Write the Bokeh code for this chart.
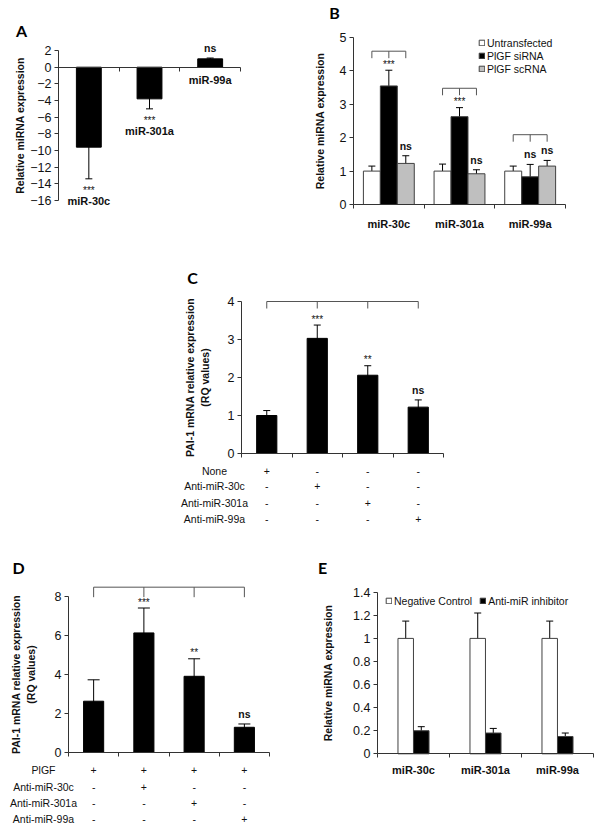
from bokeh.plotting import figure
from bokeh.models import (Range1d, FixedTicker, SingleIntervalTicker, ColumnDataSource,
                          Whisker, TeeHead, Label, Legend, LegendItem, Spacer)
from bokeh.layouts import row, column
from bokeh.embed import file_html
from bokeh.resources import INLINE

FONT = "Liberation Sans"
LETTER_FONT = "Lato"

# ---------------- data ----------------
# Panel A
a_cats = ["miR-30c", "miR-301a", "miR-99a"]
a_vals = [-9.6, -3.8, 1.0]
a_sd = [3.8, 1.2, 0.1]
a_sig = ["***", "***", "ns"]
a_yticks = (-16, 2, 2)

# Panel B
b_cats = ["miR-30c", "miR-301a", "miR-99a"]
b_series = ["Untransfected", "PlGF siRNA", "PlGF scRNA"]
b_untr = [1.0, 1.0, 1.0]
b_untr_sd = [0.15, 0.21, 0.15]
b_sirna = [3.55, 2.63, 0.83]
b_sirna_sd = [0.47, 0.27, 0.37]
b_scrna = [1.23, 0.92, 1.15]
b_scrna_sd = [0.23, 0.12, 0.17]
b_sig_sirna = ["***", "***", "ns"]
b_sig_scrna = ["ns", "ns", "ns"]
b_bracket = [4.59, 3.48, 2.09]
b_yticks = (0, 5, 1)

# Panel C
c_rows = ["None", "Anti-miR-30c", "Anti-miR-301a", "Anti-miR-99a"]
c_vals = [1.0, 3.03, 2.06, 1.22]
c_sd = [0.13, 0.35, 0.25, 0.19]
c_sig = ["", "***", "**", "ns"]
c_table = [["+", "-", "-", "-"],
           ["-", "+", "-", "-"],
           ["-", "-", "+", "-"],
           ["-", "-", "-", "+"]]
c_bracket = 4.0
c_yticks = (0, 4, 1)

# Panel D
d_rows = ["PlGF", "Anti-miR-30c", "Anti-miR-301a", "Anti-miR-99a"]
d_vals = [2.62, 6.13, 3.9, 1.28]
d_sd = [1.1, 1.28, 0.9, 0.17]
d_sig = ["", "***", "**", "ns"]
d_table = [["+", "+", "+", "+"],
           ["-", "+", "-", "-"],
           ["-", "-", "+", "-"],
           ["-", "-", "-", "+"]]
d_bracket = 8.48
d_yticks = (0, 8, 2)

# Panel E
e_cats = ["miR-30c", "miR-301a", "miR-99a"]
e_series = ["Negative Control", "Anti-miR inhibitor"]
e_neg = [1.0, 1.0, 1.0]
e_neg_sd = [0.15, 0.22, 0.15]
e_inh = [0.2, 0.18, 0.15]
e_inh_sd = [0.035, 0.04, 0.03]
e_ticks = [0, 0.2, 0.4, 0.6, 0.8, 1, 1.2, 1.4]

AX = "#333333"
TXT = "#111111"


def panel(w, h, ox, oy, ux, uy, n, ybounds, ylabel, ylabel_standoff):
    """Figure whose frame fills the canvas; data origin at pixel (ox, oy)."""
    p = figure(width=w, height=h,
               x_range=Range1d(-ox / ux, (w - ox) / ux),
               y_range=Range1d(-(h - oy) / uy, oy / uy),
               output_backend="svg", toolbar_location=None,
               min_border_left=0, min_border_right=0,
               min_border_top=0, min_border_bottom=0)
    p.title = None
    p.xgrid.visible = False
    p.ygrid.visible = False
    p.outline_line_color = None
    for ax in p.axis:
        ax.axis_line_color = AX
        ax.major_tick_line_color = AX
        ax.minor_tick_line_color = AX
        ax.major_tick_in = 0
        ax.major_tick_out = 4
        ax.minor_tick_in = 0
        ax.minor_tick_out = 0
        ax.major_label_standoff = 3
        ax.major_label_text_font = FONT
        ax.major_label_text_font_size = "12.5px"
        ax.major_label_text_color = TXT
        ax.axis_label_text_font = FONT
        ax.axis_label_text_font_style = "bold"
        ax.axis_label_text_font_size = "10.5px"
        ax.axis_label_text_color = TXT
    ya = p.yaxis[0]
    ya.fixed_location = 0
    ya.bounds = ybounds
    ya.axis_label = ylabel
    ya.axis_label_standoff = ylabel_standoff
    xa = p.xaxis[0]
    xa.fixed_location = 0
    xa.bounds = (0, n)
    return p


def cat_xaxis(p, n, labels, standoff):
    ax = p.xaxis[0]
    centers = [i + 0.5 for i in range(n)]
    ax.ticker = FixedTicker(ticks=centers, minor_ticks=list(range(n + 1)))
    ax.major_label_overrides = {c: (labels[i] if labels else "") for i, c in enumerate(centers)}
    ax.major_tick_out = 0
    ax.minor_tick_out = 4
    ax.major_label_standoff = standoff
    ax.major_label_text_font_style = "bold"
    ax.major_label_text_font_size = "11px"


def letter(p, s, xo, yo):
    p.add_layout(Label(x=0, y=0, x_offset=xo, y_offset=yo,
                       text=s, text_font=LETTER_FONT, text_font_style="bold",
                       text_font_size="16px", text_align="center",
                       text_baseline="middle", text_color="black"))


def txt(p, x, y, s, xo=0, yo=0, size="10.5px", bold=False):
    p.add_layout(Label(x=x, y=y, x_offset=xo, y_offset=yo, text=s,
                       text_font=FONT, text_font_size=size,
                       text_font_style="bold" if bold else "normal",
                       text_align="center", text_baseline="middle",
                       text_color=TXT))


def sig(p, x, y, s, up=True):
    if not s:
        return
    if s.startswith("*"):
        txt(p, x, y, s, yo=(6 if up else -12), size="10px")
    else:
        txt(p, x, y, s, yo=(10 if up else -10), size="10.5px", bold=True)


def whisk(p, xs, vals, sds, cap=7):
    src = ColumnDataSource(dict(x=xs, lo=[v - s for v, s in zip(vals, sds)],
                                hi=[v + s for v, s in zip(vals, sds)]))
    p.add_layout(Whisker(base="x", lower="lo", upper="hi", source=src,
                         line_color="black", line_width=1,
                         upper_head=TeeHead(size=cap, line_color="black", line_width=1),
                         lower_head=TeeHead(size=cap, line_color="black", line_width=1)))


def bracket(p, xs_tips, top, depth):
    p.segment(x0=[min(xs_tips)], x1=[max(xs_tips)], y0=[top], y1=[top],
              line_color="#555555", line_width=1)
    p.segment(x0=xs_tips, x1=xs_tips, y0=[top] * len(xs_tips),
              y1=[top - depth] * len(xs_tips), line_color="#555555", line_width=1)


def table(p, rows, cells, xs, y_offsets, label_xo):
    for r_i, name in enumerate(rows):
        txt(p, 0, 0, name, xo=label_xo, yo=y_offsets[r_i])
        for j, x in enumerate(xs):
            txt(p, x, 0, cells[r_i][j], yo=y_offsets[r_i])


# ---------------- Panel A ----------------
nA = len(a_cats)
A_UY = 8.33
pA = panel(300, 240, 58, 66.7, 60.67, A_UY, nA, (a_yticks[0], a_yticks[1]),
           "Relative miRNA expression", 1)
pA.yaxis.ticker = SingleIntervalTicker(interval=a_yticks[2], num_minor_ticks=0)
cat_xaxis(pA, nA, None, 3)
xa = [i + 0.5 for i in range(nA)]
pA.vbar(x=xa, top=a_vals, bottom=0, width=0.41, fill_color="black", line_color="black")
whisk(pA, xa, a_vals, a_sd, cap=7)
for i, (v, s) in enumerate(zip(a_vals, a_sd)):
    if v < 0:
        sig(pA, xa[i], v - s, a_sig[i], up=False)
        txt(pA, xa[i], v - s, a_cats[i], yo=-22, size="11px", bold=True)
    else:
        sig(pA, xa[i], v + s, a_sig[i], up=True)
        txt(pA, xa[i], 0, a_cats[i], yo=-13, size="11px", bold=True)
letter(pA, "A", -37, 37)

# ---------------- Panel B ----------------
nB = len(b_cats)
B_UY = 33.4
pB = panel(302, 240, 53, 204, 70.67, B_UY, nB, (b_yticks[0], b_yticks[1]),
           "Relative miRNA expression", 11)
pB.yaxis.ticker = SingleIntervalTicker(interval=b_yticks[2], num_minor_ticks=0)
cat_xaxis(pB, nB, b_cats, 9)
offs = [-0.24, 0.0, 0.24]
series = [(b_untr, b_untr_sd, "white"), (b_sirna, b_sirna_sd, "black"),
          (b_scrna, b_scrna_sd, "#BFBFBF")]
rends = []
for k, (vals, sds, col) in enumerate(series):
    xs = [i + 0.5 + offs[k] for i in range(nB)]
    r = pB.vbar(x=xs, top=vals, bottom=0, width=0.24, fill_color=col,
                line_color="#404040", line_width=1)
    rends.append(r)
    whisk(pB, xs, vals, sds, cap=7)
for i in range(nB):
    tips = [i + 0.5 + o for o in offs]
    bracket(pB, tips, b_bracket[i], 7 / B_UY)
    sig(pB, i + 0.5 + offs[1], b_sirna[i] + b_sirna_sd[i], b_sig_sirna[i])
    sig(pB, i + 0.5 + offs[2], b_scrna[i] + b_scrna_sd[i], b_sig_scrna[i])
legB = Legend(items=[LegendItem(label=b_series[k], renderers=[rends[k]]) for k in range(3)],
              location=(177, 164), orientation="vertical",
              background_fill_alpha=0, border_line_alpha=0,
              label_text_font=FONT, label_text_font_size="10.5px",
              label_text_color=TXT,
              glyph_width=7, glyph_height=7, label_height=13,
              spacing=0, padding=1, margin=0, label_standoff=2)
pB.add_layout(legB)
letter(pB, "B", -19, 192)

# ---------------- Panel C ----------------
nC = len(c_vals)
C_UY = 38
pC = panel(300, 300, 71, 213, 50.5, C_UY, nC, (c_yticks[0], c_yticks[1]),
           "PAI-1 mRNA relative expression\n(RQ values)", 14)
pC.yaxis.ticker = SingleIntervalTicker(interval=c_yticks[2], num_minor_ticks=0)
cat_xaxis(pC, nC, None, 3)
xc = [i + 0.5 for i in range(nC)]
pC.vbar(x=xc, top=c_vals, bottom=0, width=0.4, fill_color="black", line_color="black")
whisk(pC, xc, c_vals, c_sd, cap=7)
bracket(pC, xc, c_bracket, 7 / C_UY)
for i in range(nC):
    sig(pC, xc[i], c_vals[i] + c_sd[i], c_sig[i])
table(pC, c_rows, c_table, xc, [-17, -32, -49, -65], -27)
letter(pC, "C", -49, 176)

# ---------------- Panel D ----------------
nD = len(d_vals)
D_UY = 19.46
pD = panel(300, 289, 68, 211.7, 50.25, D_UY, nD, (d_yticks[0], d_yticks[1]),
           "PAI-1 mRNA relative expression\n(RQ values)", 15)
pD.yaxis.ticker = SingleIntervalTicker(interval=d_yticks[2], num_minor_ticks=0)
cat_xaxis(pD, nD, None, 3)
xd = [i + 0.5 for i in range(nD)]
pD.vbar(x=xd, top=d_vals, bottom=0, width=0.4, fill_color="black", line_color="black")
whisk(pD, xd, d_vals, d_sd, cap=12)
bracket(pD, xd, d_bracket, 10 / D_UY)
for i in range(nD):
    sig(pD, xd[i], d_vals[i] + d_sd[i], d_sig[i])
table(pD, d_rows, d_table, xd, [-18, -35, -51, -67], -25)
letter(pD, "D", -50, 185)

# ---------------- Panel E ----------------
nE = len(e_cats)
E_UY = 115.4
pE = panel(302, 289, 77, 213.3, 72, E_UY, nE, (e_ticks[0], e_ticks[-1]),
           "Relative miRNA expression", 16)
pE.yaxis.ticker = FixedTicker(ticks=e_ticks)
pE.yaxis.major_label_overrides = {0: "0", 1: "1"}
cat_xaxis(pE, nE, e_cats, 6)
offE = [-0.108, 0.108]
seriesE = [(e_neg, e_neg_sd, "white"), (e_inh, e_inh_sd, "black")]
rE = []
for k, (vals, sds, col) in enumerate(seriesE):
    xs = [i + 0.5 + offE[k] for i in range(nE)]
    r = pE.vbar(x=xs, top=vals, bottom=0, width=0.215, fill_color=col,
                line_color="#404040", line_width=1)
    rE.append(r)
    whisk(pE, xs, vals, sds, cap=7)
legE = Legend(items=[LegendItem(label=e_series[k], renderers=[rE[k]]) for k in range(2)],
              location=(84, 221), orientation="horizontal",
              background_fill_alpha=0, border_line_alpha=0,
              label_text_font=FONT, label_text_font_size="10.5px",
              label_text_color=TXT,
              glyph_width=7, glyph_height=7, label_height=13,
              spacing=7, padding=1, margin=0, label_standoff=2)
pE.add_layout(legE)
letter(pE, "E", -55, 186)

layout = column(row(pA, pB),
                row(Spacer(width=170, height=300), pC),
                row(pD, pE))

open("out.html", "w").write(file_html(layout, INLINE))
